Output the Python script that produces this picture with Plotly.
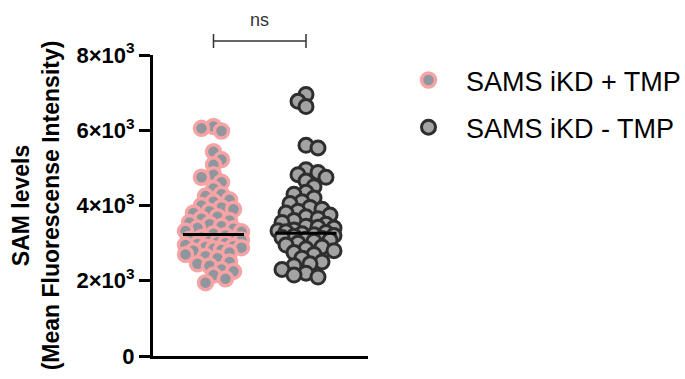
import plotly.graph_objects as go

# SAM levels (mean fluorescence intensity) per cell
plus_tmp = [6100, 6050, 5980, 5430, 5220, 5080, 4820, 4750, 4620, 4450, 4300, 4250,
            4150, 4100, 4000, 3950, 3900, 3850, 3800, 3700, 3650, 3600, 3550, 3500,
            3450, 3400, 3380, 3320, 3300, 3250, 3200, 3150, 3120, 3100, 3080, 3050,
            3020, 3000, 2980, 2950, 2920, 2900, 2880, 2850, 2820, 2800, 2750, 2700,
            2650, 2600, 2500, 2450, 2400, 2300, 2250, 2150, 2050, 1950]
minus_tmp = [6950, 6770, 6630, 5600, 5530, 4950, 4880, 4820, 4750, 4650, 4500, 4350,
             4300, 4200, 4100, 4050, 3950, 3900, 3850, 3800, 3750, 3700, 3650, 3600,
             3550, 3500, 3450, 3420, 3400, 3350, 3330, 3300, 3280, 3250, 3220, 3200,
             3180, 3150, 3120, 3100, 3080, 3050, 3000, 2950, 2900, 2850, 2800, 2750,
             2700, 2600, 2500, 2450, 2400, 2300, 2200, 2150, 2100]
group_names = ["SAMS iKD + TMP", "SAMS iKD - TMP"]
group_means = [3230, 3260]
tick_values = [0, 2000, 4000, 6000, 8000]
tick_labels = ["0", "2×10<sup>3</sup>", "4×10<sup>3</sup>", "6×10<sup>3</sup>", "8×10<sup>3</sup>"]

FONT = "Arial, Liberation Sans, sans-serif"
W, H = 685, 379
ML, MR, MT, MB = 153, 317, 55, 23
PLOT_W = W - ML - MR
PLOT_H = H - MT - MB
Y_MAX = 8000
PX_PER_X = 92.5                      # pixels per category step
X_RANGE = [-60.5 / PX_PER_X, (PLOT_W - 60.5) / PX_PER_X]
PX_PER_Y = PLOT_H / Y_MAX


def swarm_offsets(values, min_dist=9.0, step=4.0, max_off=29.0):
    """Simple beeswarm: push each point sideways until it clears its neighbours."""
    order = sorted(range(len(values)), key=lambda i: -values[i])
    placed = []
    offs = [0.0] * len(values)
    for i in order:
        y = values[i] * PX_PER_Y
        best, best_d = 0.0, -1.0
        k = 0
        while k * step <= max_off:
            cands = [0.0] if k == 0 else [k * step, -k * step]
            if len(placed) % 2:
                cands = cands[::-1]
            found = None
            for c in cands:
                d = min([((c - px) ** 2 + (y - py) ** 2) ** 0.5 for px, py in placed] or [99])
                if d >= min_dist:
                    found = c
                    break
                if d > best_d:
                    best, best_d = c, d
            if found is not None:
                best = found
                break
            k += 1
        placed.append((best, y))
        offs[i] = best / PX_PER_X
    return offs


styles = [
    dict(color="#8f969d", line=dict(color="#f6a3a5", width=3.5)),
    dict(color="#a3a3a3", line=dict(color="#2e2e2e", width=3)),
]

fig = go.Figure()
for gi, (name, vals) in enumerate(zip(group_names, [plus_tmp, minus_tmp])):
    offs = swarm_offsets(vals)
    fig.add_trace(go.Scatter(
        x=[gi + o for o in offs], y=vals, mode="markers", name=name,
        legendgroup=name,
        marker=dict(size=14, symbol="circle", **styles[gi]),
        cliponaxis=False,
    ))
    half = 30.5 / PX_PER_X
    fig.add_shape(type="line", xref="x", yref="y",
                  x0=gi - half, x1=gi + half, y0=group_means[gi], y1=group_means[gi],
                  line=dict(color="black", width=3))

# significance bracket
yb = 1 + (MT - 41) / PLOT_H
yt0 = 1 + (MT - 34) / PLOT_H
yt1 = 1 + (MT - 48) / PLOT_H
bracket = dict(color="#333333", width=1.5)
fig.add_shape(type="line", xref="x", yref="paper", x0=0, x1=1, y0=yb, y1=yb, line=bracket)
for xe in (0, 1):
    fig.add_shape(type="line", xref="x", yref="paper", x0=xe, x1=xe, y0=yt0, y1=yt1, line=bracket)
fig.add_annotation(x=0.5, xref="x", y=1 + (MT - 20) / PLOT_H, yref="paper", yanchor="middle",
                   text="ns", showarrow=False, font=dict(family=FONT, size=18, color="#333333"))

fig.update_layout(
    width=W, height=H,
    margin=dict(l=ML, r=MR, t=MT, b=MB, autoexpand=False),
    paper_bgcolor="white", plot_bgcolor="white",
    font=dict(family=FONT, color="black"),
    showlegend=True,
    legend=dict(x=(391 - ML) / PLOT_W, xanchor="left",
                y=1 + (MT - 56) / PLOT_H, yanchor="top",
                font=dict(family=FONT, size=27, color="black"),
                tracegroupgap=9, itemwidth=65, bgcolor="rgba(0,0,0,0)"),
    xaxis=dict(range=X_RANGE, showline=True, linewidth=3, linecolor="black",
               showticklabels=False, ticks="", showgrid=False, zeroline=False),
    yaxis=dict(range=[0, Y_MAX], showline=True, linewidth=3, linecolor="black",
               ticks="outside", ticklen=11, tickwidth=3, tickcolor="black",
               tickvals=tick_values, ticktext=tick_labels,
               tickfont=dict(family=FONT, size=22, color="black", weight="bold"),
               showgrid=False, zeroline=False,
               title=dict(text="<b>SAM levels<br>(Mean Fluorescense Intensity)</b>",
                          font=dict(family=FONT, size=23, color="black"), standoff=11)),
)

fig.write_html("out.html")
